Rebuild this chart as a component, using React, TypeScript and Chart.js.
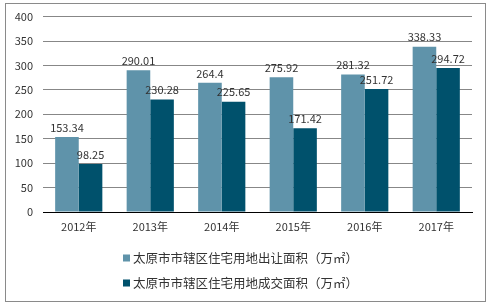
import React, { useEffect, useRef } from "react";
import { Chart, registerables } from "chart.js";

Chart.register(...registerables);

const categories = ["2012年", "2013年", "2014年", "2015年", "2016年", "2017年"];
const seriesNames = [
  "太原市市辖区住宅用地出让面积（万㎡）",
  "太原市市辖区住宅用地成交面积（万㎡）",
];
const transferArea = [153.34, 290.01, 264.4, 275.92, 281.32, 338.33];
const dealArea = [98.25, 230.28, 225.65, 171.42, 251.72, 294.72];
const yTicks = [0, 50, 100, 150, 200, 250, 300, 350, 400];

const COLORS = ["#5f93aa", "#00516c"];
const FONT = "'Noto Sans CJK SC', 'Liberation Sans', sans-serif";
const TEXT = "#333333";

const extrasPlugin = {
  id: "extras",
  afterDatasetsDraw(chart: any) {
    const ctx = chart.ctx;
    ctx.save();
    ctx.font = `11px ${FONT}`;
    ctx.fillStyle = TEXT;
    ctx.textAlign = "center";
    ctx.textBaseline = "bottom";
    chart.data.datasets.forEach((ds: any, di: number) => {
      const meta = chart.getDatasetMeta(di);
      meta.data.forEach((bar: any, i: number) => {
        ctx.fillText(String(ds.data[i]), bar.x, bar.y - 4);
      });
    });
    ctx.restore();
  },
  afterDraw(chart: any) {
    const ctx = chart.ctx;
    ctx.save();
    // outer border
    ctx.strokeStyle = "#8a8a8a";
    ctx.lineWidth = 1;
    ctx.strokeRect(5.5, 3.5, 480, 298);
    // legend
    ctx.font = `12.5px ${FONT}`;
    ctx.textAlign = "left";
    ctx.textBaseline = "middle";
    seriesNames.forEach((name, i) => {
      const y = 258 + i * 25;
      ctx.fillStyle = COLORS[i];
      ctx.fillRect(123, y - 3.5, 7, 7);
      ctx.fillStyle = TEXT;
      ctx.fillText(name, 133, y);
    });
    ctx.restore();
  },
};

export default function App() {
  const ref = useRef<HTMLCanvasElement | null>(null);
  useEffect(() => {
    if (!ref.current) return;
    const chart = new Chart(ref.current, {
      type: "bar",
      data: {
        labels: categories,
        datasets: [
          { label: seriesNames[0], data: transferArea, backgroundColor: COLORS[0], categoryPercentage: 0.66, barPercentage: 1 },
          { label: seriesNames[1], data: dealArea, backgroundColor: COLORS[1], categoryPercentage: 0.66, barPercentage: 1 },
        ],
      },
      options: {
        animation: false,
        responsive: false,
        devicePixelRatio: 1,
        layout: { padding: { left: 0, right: 23, top: 16, bottom: 74 } },
        plugins: { legend: { display: false }, tooltip: { enabled: false } },
        scales: {
          x: {
            grid: { display: false, drawTicks: false },
            border: { display: true, color: "#000000", width: 1 },
            ticks: { color: TEXT, font: { family: FONT, size: 11 }, padding: 8 },
            afterFit: (s: any) => { s.height = 20; },
          },
          y: {
            min: 0,
            max: 400,
            afterBuildTicks: (s: any) => { s.ticks = yTicks.map((v) => ({ value: v })); },
            grid: {
              drawTicks: false,
              color: (c: any) => (c.tick && c.tick.value === 0 ? "rgba(0,0,0,0)" : "#878787"),
            },
            border: { display: false },
            ticks: { color: TEXT, font: { family: FONT, size: 11 }, padding: 10 },
            afterFit: (s: any) => { s.width = 43; },
          },
        },
      },
      plugins: [extrasPlugin],
    });
    return () => chart.destroy();
  }, []);
  return (
    <div style={{ position: "fixed", left: 0, top: 0, width: 495, height: 306, background: "#fff" }}>
      <canvas ref={ref} width={495} height={306} style={{ width: 495, height: 306 }} />
    </div>
  );
}
